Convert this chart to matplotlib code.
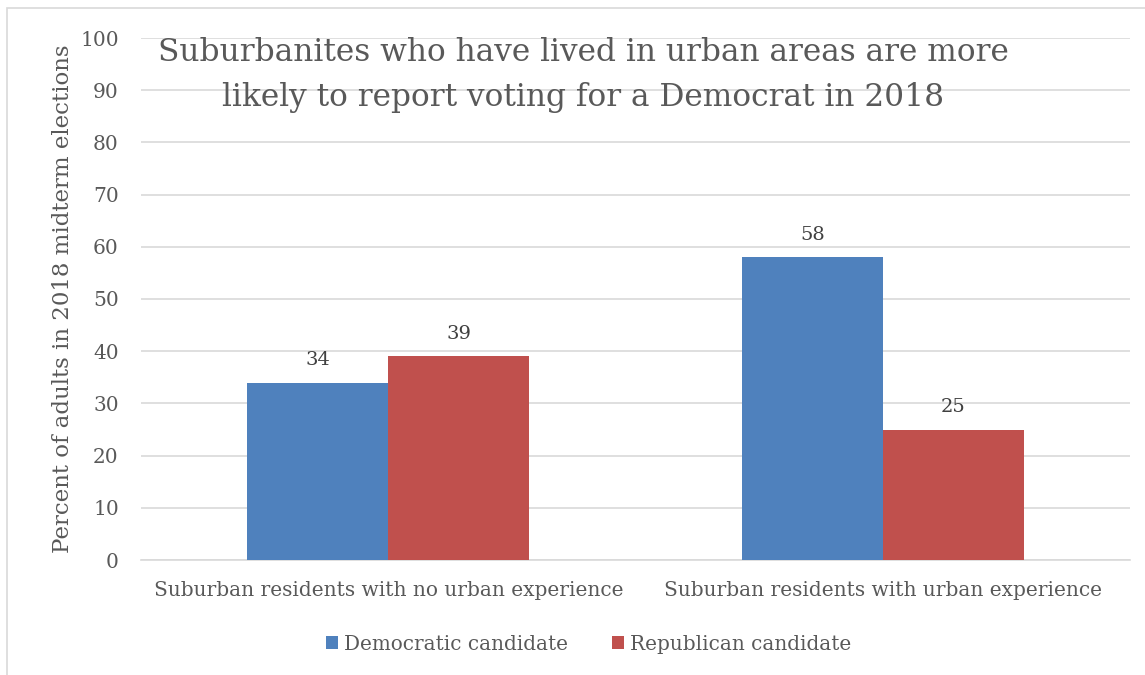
import numpy as np
import matplotlib.pyplot as plt
from matplotlib.patches import Rectangle

# Data
categories = ['Suburban residents with no urban experience',
              'Suburban residents with urban experience']
democratic = [34, 58]
republican = [39, 25]
series_names = ['Democratic candidate', 'Republican candidate']

plt.rcParams['font.family'] = ['DejaVu Serif']
text_color = '#595959'
blue = '#4F81BD'
red = '#C0504D'

fig = plt.figure(figsize=(11.45, 6.75), dpi=100)
ax = fig.add_axes([141/1145, 1 - 560/675, 989/1145, 522/675])

# chart area border
fig.patches.append(Rectangle((7/1145, -0.1), 1.2, 1.1 - 8/675,
                             transform=fig.transFigure, fill=False,
                             edgecolor='#D9D9D9', linewidth=1.2))

x = np.arange(len(categories))
w = 0.285
b1 = ax.bar(x - w/2, democratic, w, color=blue, label=series_names[0], zorder=3)
b2 = ax.bar(x + w/2, republican, w, color=red, label=series_names[1], zorder=3)

for bars in (b1, b2):
    for r in bars:
        ax.text(r.get_x() + r.get_width()/2, r.get_height() + 2.5,
                f'{int(r.get_height())}', ha='center', va='bottom',
                fontsize=14, color='#404040')

ax.set_xlim(-0.5, 1.5)
ax.set_ylim(0, 100)
ax.set_yticks(np.arange(0, 101, 10))
ax.yaxis.grid(True, color='#D9D9D9', linewidth=1.2, zorder=0)
ax.set_axisbelow(True)
for s in ['top', 'right', 'left']:
    ax.spines[s].set_visible(False)
ax.spines['bottom'].set_color('#D9D9D9')
ax.spines['bottom'].set_linewidth(1.2)
ax.tick_params(axis='both', length=0, colors=text_color, labelsize=14.5)
ax.tick_params(axis='y', pad=16)
ax.tick_params(axis='x', pad=15)
ax.set_xticks(x)
ax.set_xticklabels(categories)
ax.set_ylabel('Percent of adults in 2018 midterm elections', fontsize=16.5,
              color=text_color)
ax.yaxis.set_label_coords(-0.068, 0.5)

fig.text(583/1145, 1 - 75/675,
         'Suburbanites who have lived in urban areas are more\n'
         'likely to report voting for a Democrat in 2018',
         ha='center', va='center', fontsize=22.5, color=text_color,
         linespacing=1.55)

leg = fig.legend(handles=[b1, b2], loc='center', bbox_to_anchor=(589/1145, 1 - 644/675),
                 ncol=2, frameon=False, fontsize=14.4, handlelength=0.6,
                 handleheight=0.6, handletextpad=0.3, columnspacing=2.2)
for t in leg.get_texts():
    t.set_color(text_color)

fig.savefig('out.png', dpi=100)
